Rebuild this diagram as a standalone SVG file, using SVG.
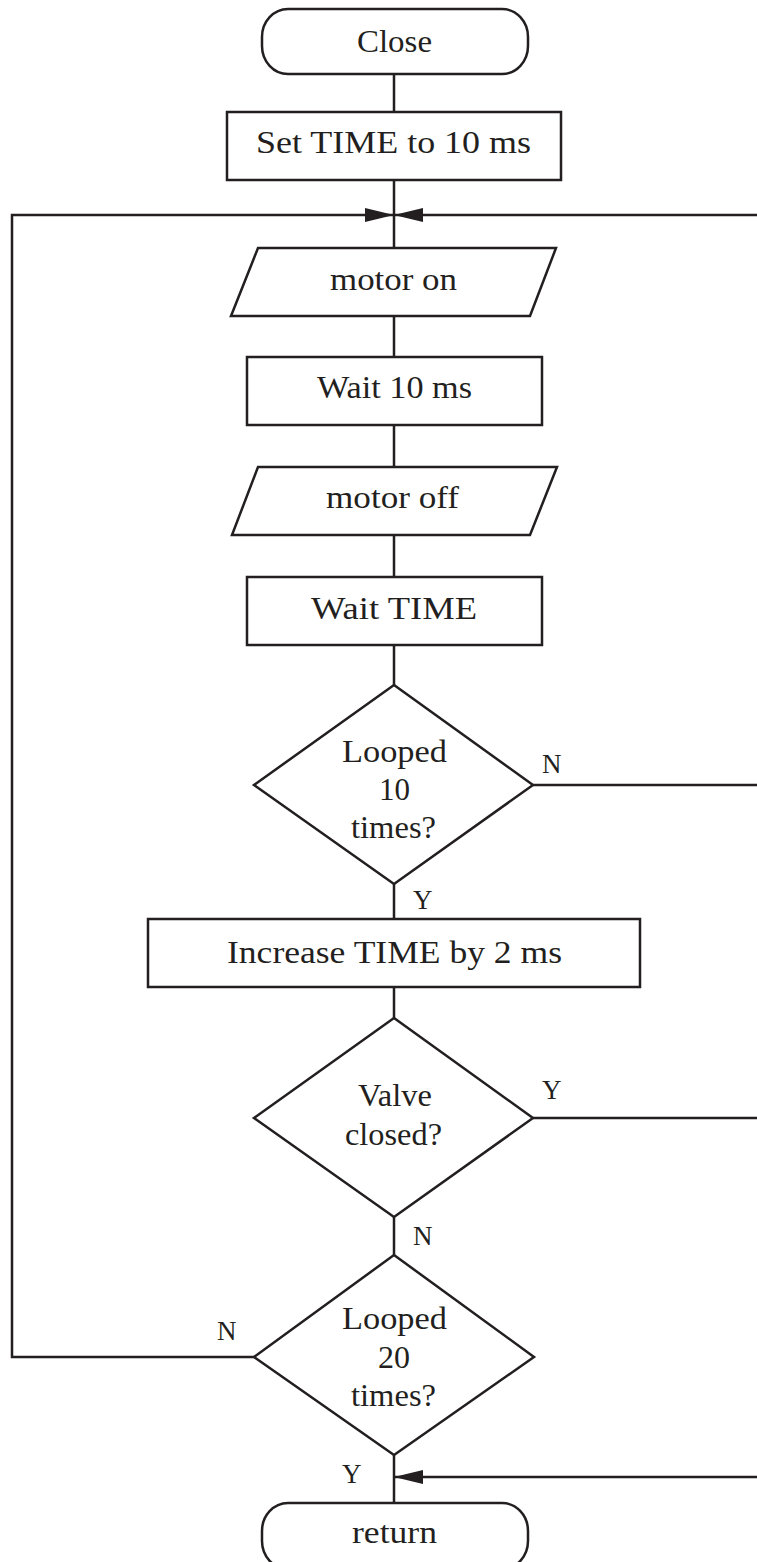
<svg xmlns="http://www.w3.org/2000/svg" width="757" height="1562" viewBox="0 0 757 1562">
<style>
.s{fill:#fff;stroke:#231f20;stroke-width:2.5}
.c{fill:none;stroke:#231f20;stroke-width:2.5}
.t{font-family:"Liberation Serif","Times New Roman",serif;font-size:32px;fill:#231f20}
.l{font-family:"Liberation Serif","Times New Roman",serif;font-size:27px;fill:#231f20}
</style>
<defs>
<marker id="ah" markerUnits="userSpaceOnUse" markerWidth="30" markerHeight="16" refX="29" refY="7" orient="auto">
<path d="M0,0 L29,7 L0,14 z" fill="#231f20"/>
</marker>
</defs>
<rect width="757" height="1562" fill="#fff"/>
<g id="connectors">
<line class="c" x1="394" y1="74" x2="394" y2="112"/>
<line class="c" x1="394" y1="180" x2="394" y2="248"/>
<line class="c" x1="394" y1="316" x2="394" y2="357"/>
<line class="c" x1="394" y1="425" x2="394" y2="467"/>
<line class="c" x1="394" y1="535" x2="394" y2="577"/>
<line class="c" x1="394" y1="645" x2="394" y2="685"/>
<line class="c" x1="394" y1="884" x2="394" y2="919"/>
<line class="c" x1="394" y1="987" x2="394" y2="1018"/>
<line class="c" x1="394" y1="1217" x2="394" y2="1255"/>
<line class="c" x1="394" y1="1455" x2="394" y2="1503"/>
<path class="c" d="M254,1357 H12 V215 H394" marker-end="url(#ah)"/>
<path class="c" d="M533,785 H762 V215 H394" marker-end="url(#ah)"/>
<path class="c" d="M533,1118 H762 V1477 H394" marker-end="url(#ah)"/>
</g>
<g id="close">
<rect class="s" x="262" y="9" width="266" height="65" rx="26" ry="28"/>
<text class="t" x="357" y="52" textLength="75" lengthAdjust="spacingAndGlyphs">Close</text>
</g>
<g id="set-time">
<rect class="s" x="227" y="112" width="334" height="68"/>
<text class="t" x="256" y="153" textLength="275" lengthAdjust="spacingAndGlyphs">Set TIME to 10 ms</text>
</g>
<g id="motor-on">
<polygon class="s" points="258,248 556,248 530,316 231,316"/>
<text class="t" x="330" y="290" textLength="127" lengthAdjust="spacingAndGlyphs">motor on</text>
</g>
<g id="wait-10">
<rect class="s" x="247" y="357" width="295" height="68"/>
<text class="t" x="317" y="398" textLength="155" lengthAdjust="spacingAndGlyphs">Wait 10 ms</text>
</g>
<g id="motor-off">
<polygon class="s" points="258,467 557,467 530,535 232,535"/>
<text class="t" x="326" y="508" textLength="133" lengthAdjust="spacingAndGlyphs">motor off</text>
</g>
<g id="wait-time">
<rect class="s" x="247" y="577" width="295" height="68"/>
<text class="t" x="311" y="619" textLength="166" lengthAdjust="spacingAndGlyphs">Wait TIME</text>
</g>
<g id="looped-10">
<polygon class="s" points="394,685 533,785 394,884 254,785"/>
<text class="t" x="342" y="762" textLength="105" lengthAdjust="spacingAndGlyphs">Looped</text>
<text class="t" x="379" y="800" textLength="31" lengthAdjust="spacingAndGlyphs">10</text>
<text class="t" x="351" y="838" textLength="85" lengthAdjust="spacingAndGlyphs">times?</text>
<text class="l" x="542" y="773">N</text>
<text class="l" x="413" y="909">Y</text>
</g>
<g id="increase">
<rect class="s" x="148" y="919" width="492" height="68"/>
<text class="t" x="227" y="963" textLength="335" lengthAdjust="spacingAndGlyphs">Increase TIME by 2 ms</text>
</g>
<g id="valve">
<polygon class="s" points="394,1018 533,1118 394,1217 254,1118"/>
<text class="t" x="358" y="1106" textLength="74" lengthAdjust="spacingAndGlyphs">Valve</text>
<text class="t" x="345" y="1145" textLength="97" lengthAdjust="spacingAndGlyphs">closed?</text>
<text class="l" x="542" y="1099">Y</text>
<text class="l" x="413" y="1245">N</text>
</g>
<g id="looped-20">
<polygon class="s" points="394,1255 534,1357 394,1455 254,1357"/>
<text class="t" x="342" y="1329" textLength="105" lengthAdjust="spacingAndGlyphs">Looped</text>
<text class="t" x="378" y="1368" textLength="32" lengthAdjust="spacingAndGlyphs">20</text>
<text class="t" x="351" y="1406" textLength="85" lengthAdjust="spacingAndGlyphs">times?</text>
<text class="l" x="217" y="1340">N</text>
<text class="l" x="342" y="1483">Y</text>
</g>
<g id="return">
<rect class="s" x="262" y="1503" width="266" height="66" rx="26" ry="28"/>
<text class="t" x="352" y="1543" textLength="85" lengthAdjust="spacingAndGlyphs">return</text>
</g>
</svg>
